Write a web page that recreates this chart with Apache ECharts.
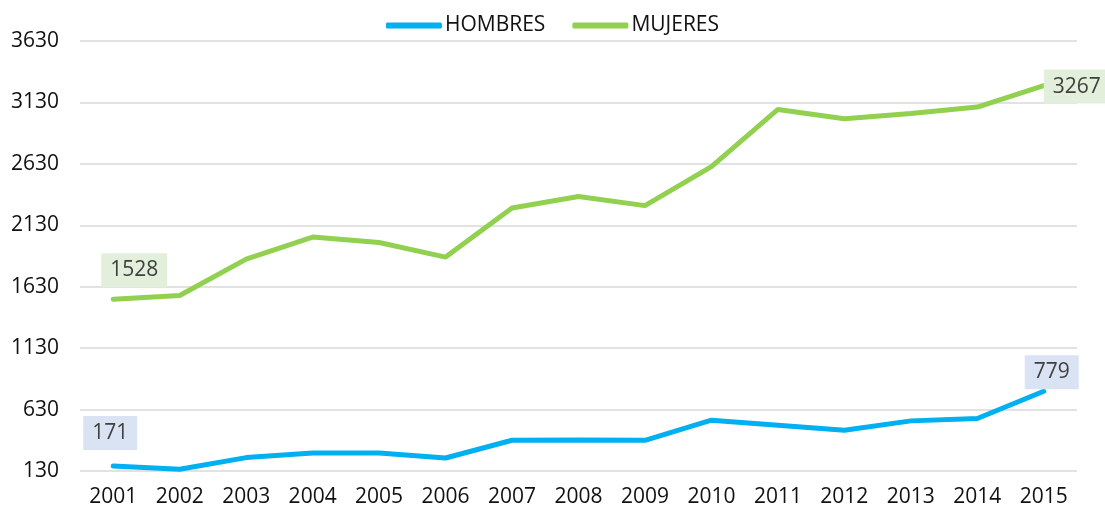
<!DOCTYPE html>
<html>
<head>
<meta charset="utf-8">
<script src="https://cdn.jsdelivr.net/npm/echarts@6/dist/echarts.min.js"></script>
<style>html,body{margin:0;padding:0;background:#fff;}#c{width:1105px;height:510px;}</style>
</head>
<body>
<div id="c"></div>
<script>
const years = ['2001','2002','2003','2004','2005','2006','2007','2008','2009','2010','2011','2012','2013','2014','2015'];
const hombres = [171,144,239,277,277,236,380,382,380,544,503,462,538,557,779];
const mujeres = [1528,1558,1855,2034,1990,1871,2271,2365,2290,2608,3073,2997,3040,3092,3267];
const yMin = 130, yMax = 3630, yStep = 500;

const FONT = '"Open Sans", "Liberation Sans", sans-serif';

function labelled(values, marks) {
  return values.map((v, i) => {
    const m = marks[i];
    if (!m) return v;
    return {
      value: v,
      label: {
        show: true,
        position: 'inside',
        offset: m.offset,
        backgroundColor: m.bg,
        color: '#404040',
        fontSize: 21,
        fontFamily: FONT,
        padding: [7, 9, 6, 9],
        formatter: '{c}'
      }
    };
  });
}

const hMarks = {0: {offset: [-3, -33], bg: '#dae3f3'}, 14: {offset: [8, -19], bg: '#dae3f3'}};
const mMarks = {0: {offset: [21, -29], bg: '#e2efda'}, 14: {offset: [33, 1], bg: '#e2efda'}};

const chart = echarts.init(document.getElementById('c'));
chart.setOption({
  backgroundColor: '#ffffff',
  animation: false,
  legend: {
    top: 10,
    left: 'center',
    icon: 'roundRect',
    itemWidth: 56,
    itemHeight: 6,
    itemGap: 27,
    textStyle: {fontSize: 21, color: '#111', fontFamily: FONT, padding: [0, 0, 0, -2]},
    data: ['HOMBRES', 'MUJERES']
  },
  grid: {left: 80, right: 28, top: 41, bottom: 39},
  xAxis: {
    type: 'category',
    data: years,
    boundaryGap: true,
    axisLine: {show: false},
    axisTick: {show: false},
    axisLabel: {fontSize: 21, color: '#111', fontFamily: FONT, margin: 16}
  },
  yAxis: {
    type: 'value',
    min: yMin,
    max: yMax,
    interval: yStep,
    axisLine: {show: false},
    axisTick: {show: false},
    axisLabel: {fontSize: 21, color: '#111', fontFamily: FONT, margin: 21, formatter: v => String(v)},
    splitLine: {lineStyle: {color: '#d9d9d9', width: 1.5}}
  },
  series: [
    {
      name: 'HOMBRES',
      type: 'line',
      data: labelled(hombres, hMarks),
      showSymbol: true,
      symbol: 'circle',
      symbolSize: 0,
      color: '#00b0f0',
      lineStyle: {width: 5, color: '#00b0f0', cap: 'round'},
      label: {show: false}
    },
    {
      name: 'MUJERES',
      type: 'line',
      data: labelled(mujeres, mMarks),
      showSymbol: true,
      symbol: 'circle',
      symbolSize: 0,
      color: '#92d050',
      lineStyle: {width: 5, color: '#92d050', cap: 'round'},
      label: {show: false}
    }
  ]
});
</script>
</body>
</html>
